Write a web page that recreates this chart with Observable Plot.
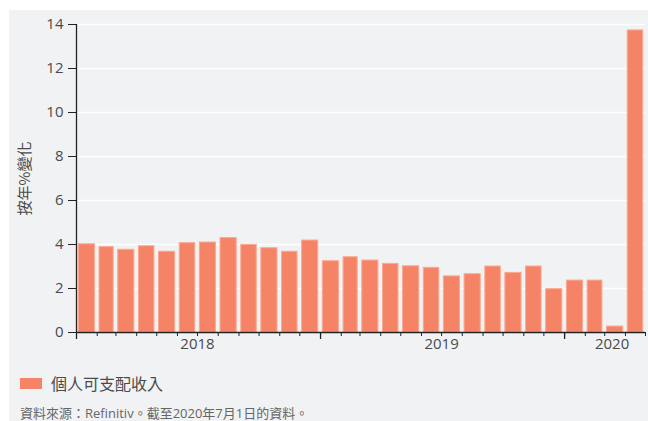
<!DOCTYPE html>
<html><head><meta charset="utf-8">
<script src="https://cdn.jsdelivr.net/npm/d3@7"></script>
<script src="https://cdn.jsdelivr.net/npm/@observablehq/plot@0.6"></script>
<style>
html,body{margin:0;padding:0;background:#fff;width:648px;height:421px;overflow:hidden;}
#panel{position:absolute;left:9px;top:10px;right:0;bottom:0;background:#f1f2f4;font-family:"Open Sans","Noto Sans CJK TC",sans-serif;}
#chart svg{display:block;}
#legend{position:absolute;left:11px;top:361px;display:flex;align-items:center;font-size:16px;color:#4a4a4a;font-family:"Noto Sans CJK TC",sans-serif;}
#legend .sw{width:22px;height:11px;background:#f58466;margin-right:9px;}
#caption{position:absolute;left:11px;top:396px;font-size:13px;line-height:15px;color:#666;white-space:nowrap;font-family:"Open Sans","Noto Sans CJK TC",sans-serif;}
</style></head>
<body>
<div id="panel">
<div id="chart"></div>
<div id="legend"><div class="sw"></div><span id="legtext"></span></div>
<div id="caption"></div>
</div>
<script>
const months = ["2018-01","2018-02","2018-03","2018-04","2018-05","2018-06","2018-07","2018-08","2018-09","2018-10","2018-11","2018-12",
"2019-01","2019-02","2019-03","2019-04","2019-05","2019-06","2019-07","2019-08","2019-09","2019-10","2019-11","2019-12",
"2020-01","2020-02","2020-03","2020-04"];
const values = [4.01,3.88,3.76,3.92,3.67,4.06,4.09,4.29,3.98,3.83,3.67,4.18,
3.24,3.42,3.27,3.12,3.01,2.94,2.55,2.65,3.00,2.71,3.00,1.97,
2.36,2.36,0.27,13.73];
const yTicks = [0,2,4,6,8,10,12,14];
const yearLabels = ["2018-07-01","2019-07-01","2020-03-12"];
const seriesName = "個人可支配收入";
const yLabel = "按年%變化";
const caption = "資料來源：Refinitiv。截至2020年7月1日的資料。";

const data = months.map((m,i)=>({date:new Date(m+"-01T00:00:00Z"), value:values[i]}));
const xStart = data[0].date;
const xEnd = d3.utcMonth.offset(data[data.length-1].date, 1);

const plot = Plot.plot({
  width: 639, height: 347,
  marginLeft: 67, marginRight: 3, marginTop: 14, marginBottom: 25,
  style: {background: "transparent", fontFamily: "'Open Sans', sans-serif", fontSize: "15px", color: "#4a4a4a"},
  x: {type: "utc", domain: [xStart, xEnd]},
  y: {domain: [0, 14]},
  marks: [
    Plot.gridY(yTicks.filter(d=>d>0), {stroke: "#fff", strokeOpacity: 1, strokeWidth: 1.5}),
    Plot.rectY(data, {x: "date", y: "value", interval: "month", insetLeft: 2.3, insetRight: 2.3, fill: "#f58466", stroke: "#fba892", strokeWidth: 1}),
    Plot.ruleY([0], {stroke: "#222", strokeWidth: 1.3}),
    Plot.ruleX([xStart], {stroke: "#222", strokeWidth: 1.3}),
    Plot.axisY({ticks: yTicks, tickSize: 8, tickPadding: 5, label: null, stroke: "#222", fill: "#4a4a4a", fontSize: 15}),
    Plot.axisX({ticks: d3.utcMonth.range(xStart, d3.utcMonth.offset(xEnd,1)), tickSize: 4, tickFormat: () => "", label: null, stroke: "#222"}),
    Plot.axisX({ticks: d3.utcYear.range(xStart, xEnd), tickSize: 7, tickFormat: () => "", label: null, stroke: "#222", strokeWidth: 1.3}),
    Plot.axisX({ticks: yearLabels.map(d=>new Date(d+"T00:00:00Z")), tickSize: 0, tickPadding: 6, tickFormat: d3.utcFormat("%Y"), label: null, fill: "#4a4a4a", fontSize: 15}),
    Plot.text([yLabel], {frameAnchor: "left", dx: -51, rotate: -90, textAnchor: "middle", fontSize: 15, fill: "#4a4a4a", fontFamily: "'Noto Sans CJK TC', sans-serif"})
  ]
});
document.getElementById("chart").appendChild(plot);
document.getElementById("legtext").textContent = seriesName;
document.getElementById("caption").textContent = caption;
</script>
</body></html>
